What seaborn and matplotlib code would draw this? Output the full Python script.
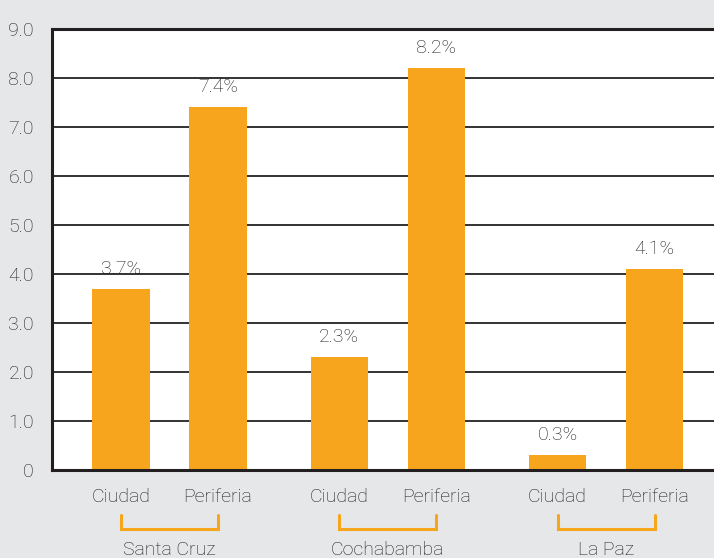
import numpy as np
import pandas as pd
import seaborn as sns
import matplotlib.pyplot as plt
import matplotlib.transforms as mtransforms

# datos
ciudades = ['Santa Cruz', 'Cochabamba', 'La Paz']
zonas = ['Ciudad', 'Periferia']
valores = [3.7, 7.4, 2.3, 8.2, 0.3, 4.1]
etiquetas_y = ['0', '1.0', '2.0', '3.0', '4.0', '5.0', '6.0', '7.0', '8.0', '9.0']

naranja = '#F7A51C'
gris_fondo = '#E6E7E8'
gris_texto = '#1E1E1E'

# posiciones de las barras: dos por grupo, separacion extra entre grupos
pos = []
for g in range(len(ciudades)):
    for z in range(len(zonas)):
        pos.append(g * 2.25 + z)
df = pd.DataFrame({'pos': pos, 'valor': valores,
                   'zona': zonas * len(ciudades)})

sns.set_style('white')
plt.rcParams['font.family'] = ['Roboto', 'DejaVu Sans']
plt.rcParams['font.weight'] = 'light'

fig = plt.figure(figsize=(7.14, 5.58), dpi=100, facecolor=gris_fondo)
ax = fig.add_axes([52 / 714, 88 / 558, 662 / 714, 441 / 558])
ax.set_facecolor('white')

sns.barplot(data=df, x='pos', y='valor', native_scale=True, color=naranja,
            width=0.59, saturation=1, linewidth=0, edgecolor='none', ax=ax)
for p in ax.patches:
    p.set_zorder(3)

ax.set_ylim(0, 9)
ax.set_xlim(-0.711, 6.113)
ax.set_yticks(range(10))
ax.set_yticklabels(etiquetas_y)
ax.set_axisbelow(True)
ax.yaxis.grid(True, color='#222222', linewidth=1.3)
ax.set_xticks(pos)
ax.set_xticklabels(zonas * len(ciudades))
ax.tick_params(axis='both', length=0, labelsize=14, colors=gris_texto)
ax.tick_params(axis='y', pad=13)
ax.tick_params(axis='x', pad=13)
ax.set_xlabel('')
ax.set_ylabel('')
for lado in ['left', 'bottom', 'top']:
    ax.spines[lado].set_visible(True)
    ax.spines[lado].set_color('#231F20')
    ax.spines[lado].set_linewidth(2.2)
    ax.spines[lado].set_zorder(4)
ax.spines['right'].set_visible(False)

# etiquetas de valor
for x, v in zip(pos, valores):
    ax.annotate(f'{v:.1f}%', (x, v), xytext=(0, 8), textcoords='offset points',
                ha='center', va='bottom', fontsize=14, color=gris_texto,
                zorder=5)

# corchetes de grupo
trans = mtransforms.blended_transform_factory(ax.transData, ax.transAxes)
y_alto = -45 / 441
y_bajo = -59 / 441
for g, nombre in enumerate(ciudades):
    x0 = pos[2 * g]
    x1 = pos[2 * g + 1]
    ax.plot([x0, x0, x1, x1], [y_alto, y_bajo, y_bajo, y_alto], color=naranja,
            linewidth=2.2, transform=trans, clip_on=False,
            solid_joinstyle='miter')
    ax.text((x0 + x1) / 2, -80 / 441, nombre, transform=trans, ha='center',
            va='center', fontsize=14, color=gris_texto)

fig.savefig('out.png', dpi=100, facecolor=gris_fondo)
